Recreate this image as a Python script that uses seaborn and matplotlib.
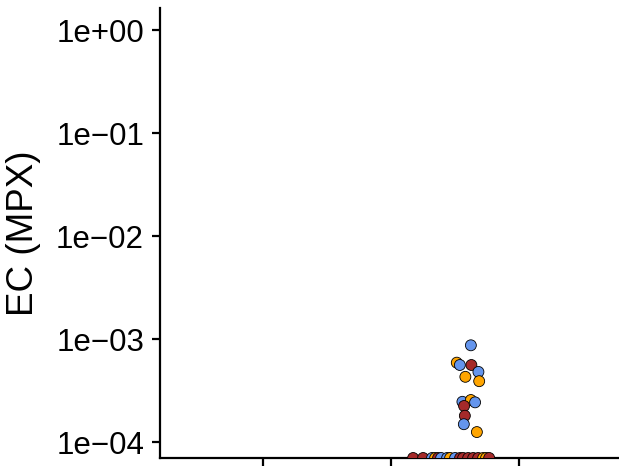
import matplotlib
matplotlib.use("Agg")
import matplotlib.pyplot as plt
import numpy as np
import pandas as pd
import seaborn as sns

# jittered x positions (category axis ticks at 1, 2, 3) and EC values
top_x = [2.623, 2.513, 2.537, 2.627, 2.682, 2.580, 2.688, 2.557, 2.623, 2.656,
         2.570, 2.576, 2.568, 2.670]
top_ec = [8.7e-4, 5.9e-4, 5.6e-4, 5.6e-4, 4.8e-4, 4.3e-4, 3.9e-4, 2.46e-4, 2.56e-4,
          2.43e-4, 2.24e-4, 1.8e-4, 1.49e-4, 1.25e-4]
top_group = ["B", "O", "B", "R", "B", "O", "O", "B", "O", "B", "R", "R", "B", "O"]

zero_x = [2.172, 2.25, 2.320, 2.344, 2.367, 2.391, 2.4375, 2.461, 2.5, 2.539,
          2.5625, 2.602, 2.641, 2.68, 2.719, 2.742, 2.766]
zero_group = ["R", "R", "B", "O", "R", "B", "B", "O", "B", "R",
              "R", "R", "R", "R", "O", "O", "R"]

y_ticks = [1e0, 1e-1, 1e-2, 1e-3, 1e-4]
y_labels = ["1e+00", "1e\u221201", "1e\u221202", "1e\u221203", "1e\u221204"]
y_lim = (7.0e-5, 1.64)
x_lim = (0.195, 3.78)

palette = {"B": "#6495ED", "O": "#FFA500", "R": "#A52A2A"}

df = pd.DataFrame({
    "x": top_x + zero_x,
    "ec": top_ec + [0.0] * len(zero_x),
    "group": top_group + zero_group,
})
# squish out-of-range (zero) values onto the lower limit
df["ec"] = np.clip(df["ec"], y_lim[0], None)

sns.set_style("white")
plt.rcParams["font.family"] = ["Liberation Sans", "DejaVu Sans"]

fig = plt.figure(figsize=(6.19, 4.68), dpi=100)
ax = fig.add_axes([160 / 619, 10 / 468, 1 - 160 / 619, 450 / 468])

sns.scatterplot(data=df, x="x", y="ec", hue="group", palette=palette, s=62,
                edgecolor="black", linewidth=0.6, legend=False, ax=ax, zorder=3)

ax.set_yscale("log")
ax.set_ylim(*y_lim)
ax.set_xlim(*x_lim)
ax.set_yticks(y_ticks)
ax.set_yticklabels(y_labels, fontsize=22.5, color="black")
ax.minorticks_off()
ax.set_xticks([1, 2, 3])
ax.set_xticklabels([])
ax.set_xlabel("")
ax.set_ylabel("EC (MPX)", fontsize=26.5, color="black", labelpad=11)

for side in ["top", "right"]:
    ax.spines[side].set_visible(False)
for side in ["left", "bottom"]:
    ax.spines[side].set_linewidth(1.6)
    ax.spines[side].set_color("black")
ax.tick_params(axis="both", which="major", direction="out", length=5.5, width=1.6,
               color="black", labelcolor="black", left=True, bottom=True)
ax.tick_params(axis="y", pad=6)

fig.savefig("out.png", dpi=100)
